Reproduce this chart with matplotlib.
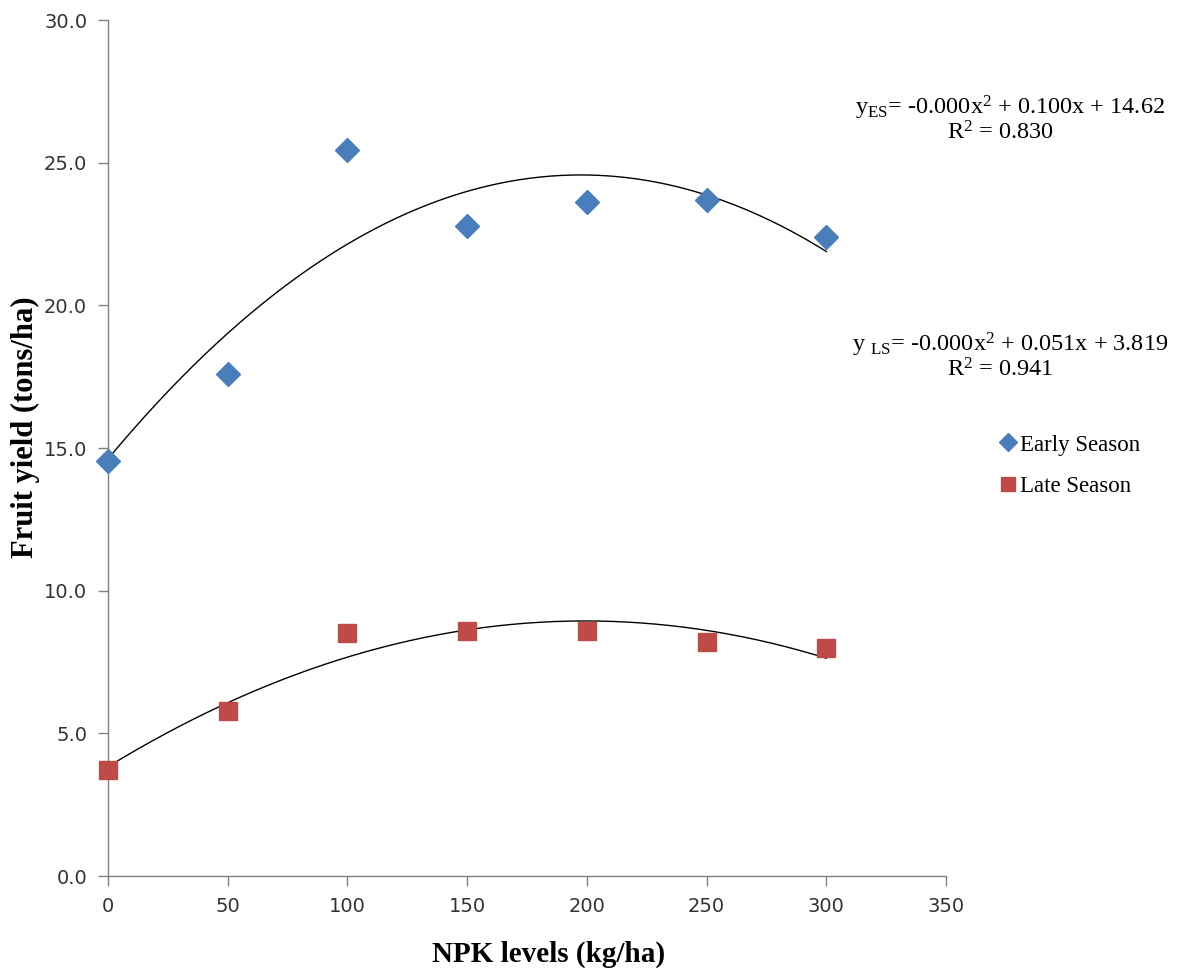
import numpy as np
import matplotlib
matplotlib.use("Agg")
import matplotlib.pyplot as plt
from matplotlib.lines import Line2D

npk = [0, 50, 100, 150, 200, 250, 300]
early = [14.55, 17.6, 25.45, 22.78, 23.62, 23.7, 22.4]
late = [3.72, 5.78, 8.52, 8.57, 8.59, 8.2, 8.0]
xticks = [0, 50, 100, 150, 200, 250, 300, 350]
yticks = [0.0, 5.0, 10.0, 15.0, 20.0, 25.0, 30.0]
eq_es = r"y$_{\mathrm{ES}}$= -0.000x$^{2}$ + 0.100x + 14.62"
r2_es = r"R$^{2}$ = 0.830"
eq_ls = r"y $_{\mathrm{LS}}$= -0.000x$^{2}$ + 0.051x + 3.819"
r2_ls = r"R$^{2}$ = 0.941"

plt.rcParams['mathtext.fontset'] = 'custom'
plt.rcParams['mathtext.rm'] = 'Liberation Serif'
plt.rcParams['mathtext.it'] = 'Liberation Serif:italic'

fig = plt.figure(figsize=(11.78, 9.71), dpi=100)
ax = fig.add_axes([108/1178, 95/971, (946-108)/1178, (876-20)/971])

blue = '#4A7EBB'
red = '#BE4B48'

xs = np.linspace(0, 300, 300)
for ys in (early, late):
    c = np.polyfit(npk, ys, 2)
    ax.plot(xs, np.polyval(c, xs), color='black', lw=1.0, zorder=2)

ax.plot(npk, early, linestyle='none', marker='D', ms=12, color=blue, mec=blue, zorder=3, clip_on=False)
ax.plot(npk, late, linestyle='none', marker='s', ms=13, color=red, mec=red, zorder=3, clip_on=False)

ax.set_xlim(0, 350)
ax.set_ylim(0, 30)
ax.set_xticks(xticks)
ax.set_yticks(yticks)
ax.set_yticklabels([f"{v:.1f}" for v in yticks])
for s in ('top', 'right'):
    ax.spines[s].set_visible(False)
for s in ('left', 'bottom'):
    ax.spines[s].set_color('#808080')
    ax.spines[s].set_linewidth(1.0)
ax.tick_params(direction='out', length=7, width=1.0, color='#808080', labelsize=14,
               labelcolor='#333333', pad=8)

ax.set_xlabel("NPK levels (kg/ha)", family='Liberation Serif', fontweight='bold', fontsize=21)
ax.set_ylabel("Fruit yield (tons/ha)", family='Liberation Serif', fontweight='bold', fontsize=22)
ax.xaxis.label.set_verticalalignment('center')
ax.yaxis.label.set_verticalalignment('center')
ax.xaxis.set_label_coords((549-108)/838, -(954-876)/856)
ax.yaxis.set_label_coords((25-108)/838, (876-427)/856)

tf = dict(family='Liberation Serif', fontsize=17.5, ha='center', va='center', color='black')
fig.text(1010/1178, 1 - 108/971, eq_es, **tf)
fig.text(1000/1178, 1 - 133/971, r2_es, **tf)
fig.text(1010/1178, 1 - 345/971, eq_ls, **tf)
fig.text(1000/1178, 1 - 370/971, r2_ls, **tf)

handles = [Line2D([], [], ls='none', marker='D', ms=9, color=blue),
           Line2D([], [], ls='none', marker='s', ms=10, color=red)]
fig.legend(handles, ["Early Season", "Late Season"], loc='upper left',
           bbox_to_anchor=(990/1178, 1 - 423/971), frameon=False,
           prop={'family': 'Liberation Serif', 'size': 16.5}, handlelength=0.6,
           handletextpad=0.2, labelspacing=0.9, borderpad=0)

fig.savefig("out.png", dpi=100)
